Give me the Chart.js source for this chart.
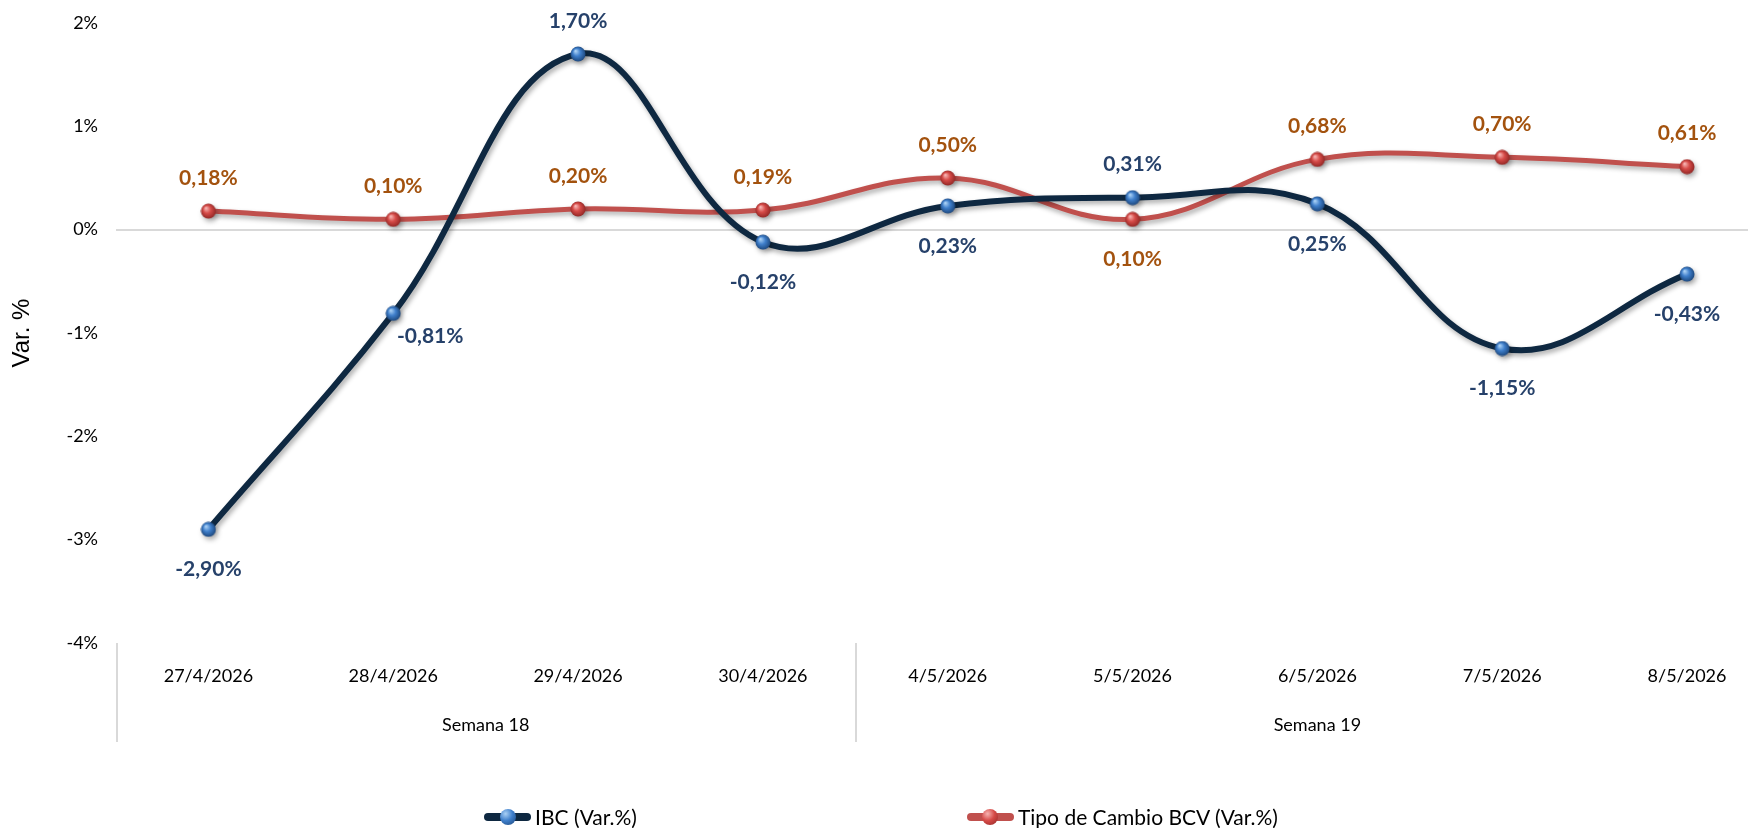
<!DOCTYPE html>
<html><head><meta charset="utf-8">
<script src="https://cdn.jsdelivr.net/npm/chart.js@4.4.1/dist/chart.umd.min.js"></script>
<style>
html,body{margin:0;padding:0;background:#fff;overflow:hidden}
#wrap{position:relative;width:1762px;height:828px}
#legend{position:absolute;left:0;top:804px;width:1762px;display:flex;justify-content:center;gap:330px;font:21px Lato,sans-serif;color:#000;line-height:25px}
.item{display:flex;align-items:center}
.mk{position:relative;width:47px;height:8px;border-radius:4px;margin-right:4px}
.mk i{position:absolute;left:50%;top:50%;width:16px;height:16px;margin:-8px 0 0 -8px;border-radius:50%}
</style></head><body>
<div id="wrap"><canvas id="c" width="1762" height="828"></canvas><div id="legend"></div></div>
<script>
const dates = ["27/4/2026","28/4/2026","29/4/2026","30/4/2026","4/5/2026","5/5/2026","6/5/2026","7/5/2026","8/5/2026"];
const weeks = ["Semana 18","Semana 19"];
const weekSizes = [4,5];
const ibcValues = [-2.90,-0.81,1.70,-0.12,0.23,0.31,0.25,-1.15,-0.43];
const bcvValues = [0.18,0.10,0.20,0.19,0.50,0.10,0.68,0.70,0.61];
const yTickValues = [-4,-3,-2,-1,0,1,2];
const seriesNames = ["IBC (Var.%)","Tipo de Cambio BCV (Var.%)"];

// label placement (styling, not data)
const ibcLabelPos = ["below","belowRight","above","below","below","above","below","below","below"];
const bcvLabelPos = ["above","above","above","above","above","below","above","above","above"];

function sphere(c1,c2,c3,r){
  const cv=document.createElement('canvas'); cv.width=cv.height=2*r;
  const g=cv.getContext('2d');
  const gr=g.createRadialGradient(r-2.5,r-3,0.5,r,r,r);
  gr.addColorStop(0,c1); gr.addColorStop(0.45,c2); gr.addColorStop(1,c3);
  g.fillStyle=gr; g.beginPath(); g.arc(r,r,r-0.5,0,Math.PI*2); g.fill();
  return cv;
}
const blueBall = sphere('#A9D0F5','#3F7FCB','#1B4478',8);
const redBall = sphere('#F6B3B1','#D64B48','#8E2523',8);

const shadowPlugin = {
  id:'shadow',
  beforeDatasetDraw(chart){const c=chart.ctx;c.save();c.shadowColor='rgba(0,0,0,0.32)';c.shadowBlur=5;c.shadowOffsetX=2;c.shadowOffsetY=3;},
  afterDatasetDraw(chart){chart.ctx.restore();}
};

const labelPlugin = {
  id:'valueLabels',
  afterDatasetsDraw(chart){
    const ctx=chart.ctx;
    const cfg=[{pos:ibcLabelPos,color:'#26416A'},{pos:bcvLabelPos,color:'#A3520E'}];
    chart.data.datasets.forEach((ds,di)=>{
      const meta=chart.getDatasetMeta(di);
      meta.data.forEach((pt,i)=>{
        const v=ds.data[i].y;
        const txt=v.toFixed(2).replace('.',',')+'%';
        let x=pt.x,y=pt.y;
        const p=cfg[di].pos[i];
        if(p==='above') y-=33; else if(p==='below') y+=40; else {x+=37;y+=23;}
        ctx.save();
        ctx.font='bold 21px Lato, sans-serif';
        ctx.fillStyle=cfg[di].color;
        ctx.textAlign='center'; ctx.textBaseline='middle';
        ctx.fillText(txt,x,y);
        ctx.restore();
      });
    });
  }
};

const groupPlugin = {
  id:'groups',
  afterDraw(chart){
    const ctx=chart.ctx, xs=chart.scales.x, bottom=chart.chartArea.bottom;
    ctx.save();
    ctx.strokeStyle='#D9D9D9'; ctx.lineWidth=2;
    ctx.font='18px Lato, sans-serif'; ctx.fillStyle='#000';
    ctx.textAlign='center'; ctx.textBaseline='middle';
    let start=0;
    weeks.forEach((w,k)=>{
      const a=start-0.5, b=start+weekSizes[k]-0.5;
      const px=Math.round(xs.getPixelForValue(a))+1;
      ctx.beginPath(); ctx.moveTo(px,bottom); ctx.lineTo(px,bottom+99); ctx.stroke();
      ctx.fillText(w, xs.getPixelForValue((a+b)/2), bottom+82);
      start+=weekSizes[k];
    });
    ctx.restore();
  }
};

const chart = new Chart(document.getElementById('c'),{
  type:'line',
  data:{
    datasets:[
      {label:seriesNames[0],data:ibcValues.map((v,i)=>({x:i,y:v})),borderColor:'#0E2841',borderWidth:6,
       pointStyle:blueBall,pointRadius:8,pointHoverRadius:8,tension:0.4,fill:false},
      {label:seriesNames[1],data:bcvValues.map((v,i)=>({x:i,y:v})),borderColor:'#C0504D',borderWidth:5,
       pointStyle:redBall,pointRadius:8,pointHoverRadius:8,tension:0.4,fill:false}
    ]
  },
  options:{
    responsive:false,animation:false,
    layout:{padding:{top:23,bottom:85,left:0,right:0}},
    plugins:{legend:{display:false},tooltip:{enabled:false}},
    scales:{
      x:{type:'linear',min:-0.5,max:8.33,
        afterBuildTicks(s){s.ticks=dates.map((d,i)=>({value:i}));},
        afterFit(s){s.height=100;s.paddingLeft=0;s.paddingRight=0;},
        grid:{display:false,drawTicks:false},border:{display:false},
        ticks:{autoSkip:false,maxRotation:0,padding:22,color:'#000',font:{family:'Lato',size:18},
          callback:(v)=>dates[v]!==undefined?dates[v]:''}},
      y:{min:-4,max:2,
        afterBuildTicks(s){s.ticks=yTickValues.map(v=>({value:v}));},
        afterFit(s){s.width=116;s.paddingTop=0;s.paddingBottom=0;},
        grid:{drawTicks:false,lineWidth:2,color:(c)=>c.tick&&c.tick.value===0?'#D9D9D9':'rgba(0,0,0,0)'},
        border:{display:false},
        ticks:{padding:18,color:'#000',font:{family:'Lato',size:18},callback:(v)=>v+'%'},
        title:{display:true,text:'Var. %',color:'#000',font:{family:'Liberation Sans',size:24},padding:{top:8,bottom:0}}}
    }
  },
  plugins:[shadowPlugin,labelPlugin,groupPlugin]
});

// HTML legend
const lg=document.getElementById('legend');
[['#0E2841','radial-gradient(circle at 35% 30%, #A9D0F5 0%, #3F7FCB 45%, #1B4478 100%)'],
 ['#C0504D','radial-gradient(circle at 35% 30%, #F6B3B1 0%, #D64B48 45%, #8E2523 100%)']].forEach((c,i)=>{
  const it=document.createElement('div'); it.className='item';
  const mk=document.createElement('span'); mk.className='mk'; mk.style.background=c[0];
  const ball=document.createElement('i'); ball.style.background=c[1]; mk.appendChild(ball);
  const tx=document.createElement('span'); tx.textContent=seriesNames[i];
  it.appendChild(mk); it.appendChild(tx); lg.appendChild(it);
});
</script>
</body></html>
